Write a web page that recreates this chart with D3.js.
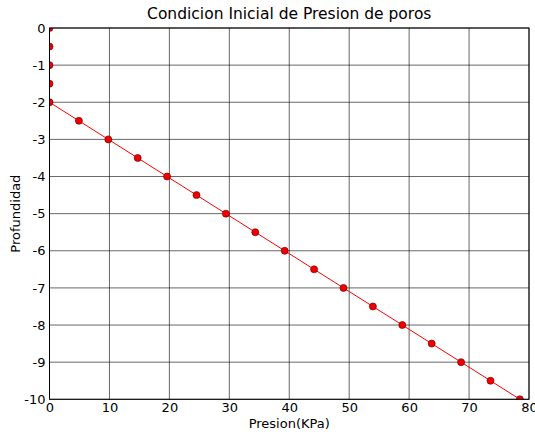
<!DOCTYPE html>
<html>
<head>
<meta charset="utf-8">
<script src="https://d3js.org/d3.v7.min.js"></script>
<style>
  body { margin: 0; background: #fff; }
  text { font-family: "DejaVu Sans", sans-serif; fill: #000; }
</style>
</head>
<body>
<div id="container"></div>
<script>
// depth (m) and pore pressure (KPa)
var depth = [0, -0.5, -1, -1.5, -2, -2.5, -3, -3.5, -4, -4.5, -5, -5.5, -6, -6.5, -7, -7.5, -8, -8.5, -9, -9.5, -10];
var pressure = [0, 0, 0, 0, 0, 4.905, 9.81, 14.715, 19.62, 24.525, 29.43, 34.335, 39.24, 44.145, 49.05, 53.955, 58.86, 63.765, 68.67, 73.575, 78.48];
var xTicks = [0, 10, 20, 30, 40, 50, 60, 70, 80];
var yTicks = [0, -1, -2, -3, -4, -5, -6, -7, -8, -9, -10];

var width = 535, height = 432;
var mLeft = 49.5, mRight = 529, mTop = 28, mBottom = 399.3;

var svg = d3.select("#container").append("svg")
  .attr("width", width).attr("height", height);

var x = d3.scaleLinear().domain([0, 80]).range([mLeft, mRight]);
var y = d3.scaleLinear().domain([-10, 0]).range([mBottom, mTop]);

svg.append("defs").append("clipPath").attr("id", "plotclip")
  .append("rect").attr("x", mLeft).attr("y", mTop)
  .attr("width", mRight - mLeft).attr("height", mBottom - mTop);

// grid
var grid = svg.append("g");
grid.selectAll(".vx").data(xTicks).enter().append("line")
  .attr("x1", function(d) { return x(d); }).attr("x2", function(d) { return x(d); })
  .attr("y1", mTop).attr("y2", mBottom)
  .attr("stroke", "#000").attr("stroke-width", 0.6);
grid.selectAll(".hy").data(yTicks).enter().append("line")
  .attr("y1", function(d) { return y(d); }).attr("y2", function(d) { return y(d); })
  .attr("x1", mLeft).attr("x2", mRight)
  .attr("stroke", "#000").attr("stroke-width", 0.6);

// data
var pts = depth.map(function(d, i) { return [pressure[i], d]; });
var plot = svg.append("g").attr("clip-path", "url(#plotclip)");
plot.append("path").datum(pts)
  .attr("fill", "none").attr("stroke", "#ff0000").attr("stroke-width", 1)
  .attr("d", d3.line().x(function(d) { return x(d[0]); }).y(function(d) { return y(d[1]); }));
plot.selectAll("circle").data(pts).enter().append("circle")
  .attr("cx", function(d) { return x(d[0]); })
  .attr("cy", function(d) { return y(d[1]); })
  .attr("r", 3.5)
  .attr("fill", "#f00000").attr("stroke", "#7a0000").attr("stroke-width", 0.7);

// frame
svg.append("rect").attr("x", mLeft).attr("y", mTop)
  .attr("width", mRight - mLeft).attr("height", mBottom - mTop)
  .attr("fill", "none").attr("stroke", "#000").attr("stroke-width", 1);

// axes
var xAxis = svg.append("g").attr("transform", "translate(0," + mBottom + ")")
  .call(d3.axisBottom(x).tickValues(xTicks).tickSize(0).tickPadding(3.5).tickFormat(d3.format("d")));
var yAxis = svg.append("g").attr("transform", "translate(" + mLeft + ",0)")
  .call(d3.axisLeft(y).tickValues(yTicks).tickSize(0).tickPadding(4).tickFormat(function(d) { return d === 0 ? "0" : "-" + Math.abs(d); }));
[xAxis, yAxis].forEach(function(a) {
  a.select(".domain").remove();
  a.selectAll("text").style("font-size", "13px").style("font-family", "DejaVu Sans");
});

// titles
svg.append("text").attr("x", (mLeft + mRight) / 2).attr("y", 19)
  .attr("text-anchor", "middle").style("font-size", "15.5px")
  .text("Condicion Inicial de Presion de poros");
svg.append("text").attr("x", (mLeft + mRight) / 2).attr("y", 427.5)
  .attr("text-anchor", "middle").style("font-size", "13px")
  .text("Presion(KPa)");
svg.append("text")
  .attr("transform", "translate(19.5," + (mTop + mBottom) / 2 + ") rotate(-90)")
  .attr("text-anchor", "middle").style("font-size", "13px")
  .text("Profundidad");
</script>
</body>
</html>
